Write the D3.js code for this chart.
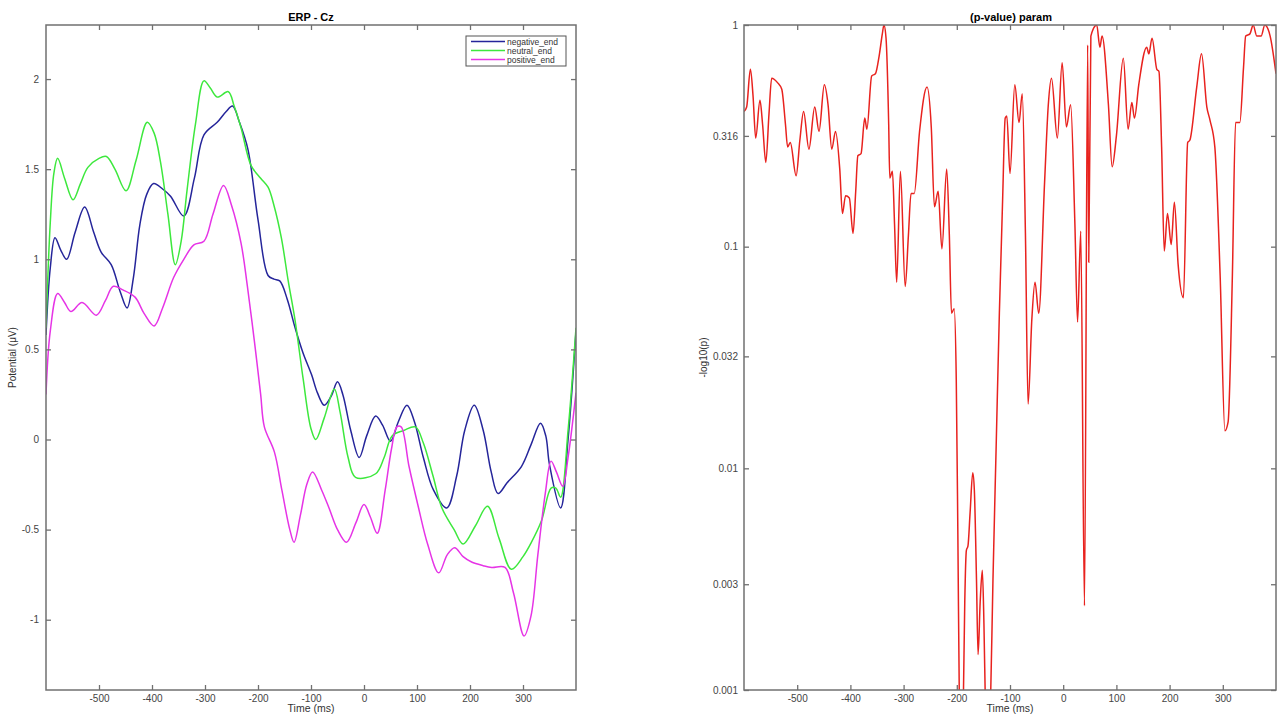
<!DOCTYPE html>
<html>
<head>
<meta charset="utf-8">
<script src="https://cdn.jsdelivr.net/npm/d3@7"></script>
<style>
  body { margin: 0; background: #fff; }
  text { font-family: "Liberation Sans", Arial, sans-serif; }
</style>
</head>
<body>
<svg id="chart" width="1278" height="715"></svg>
<script>
// [time (ms), potential (uV)]
const negativeEnd = [[-600, 0.58], [-592, 0.95], [-583, 1.12], [-572, 1.05], [-561, 1.0], [-545, 1.15], [-527, 1.29], [-510, 1.15], [-496, 1.04], [-477, 0.97], [-460, 0.82], [-447, 0.73], [-435, 0.9], [-423, 1.19], [-410, 1.36], [-397, 1.42], [-380, 1.39], [-365, 1.35], [-340, 1.24], [-320, 1.45], [-302, 1.69], [-277, 1.76], [-260, 1.82], [-248, 1.85], [-235, 1.76], [-219, 1.61], [-200, 1.22], [-181, 0.91], [-170, 0.89], [-159, 0.88], [-145, 0.78], [-130, 0.62], [-115, 0.48], [-99, 0.36], [-88, 0.26], [-75, 0.19], [-62, 0.24], [-50, 0.32], [-40, 0.25], [-25, 0.05], [-9, -0.10], [5, 0.02], [22, 0.13], [35, 0.08], [50, -0.01], [65, 0.1], [81, 0.19], [95, 0.1], [112, -0.1], [131, -0.28], [156, -0.38], [175, -0.2], [190, 0.05], [208, 0.19], [225, 0.05], [240, -0.18], [253, -0.30], [270, -0.24], [297, -0.15], [315, -0.03], [333, 0.09], [343, 0.02], [350, -0.14], [371, -0.38], [385, 0.0], [400, 0.6]]
const neutralEnd = [[-600, 0.62], [-592, 1.2], [-585, 1.48], [-578, 1.56], [-565, 1.45], [-549, 1.33], [-535, 1.42], [-521, 1.51], [-500, 1.56], [-486, 1.57], [-470, 1.5], [-449, 1.38], [-430, 1.55], [-409, 1.76], [-396, 1.70], [-384, 1.54], [-370, 1.25], [-356, 0.97], [-345, 1.1], [-334, 1.38], [-318, 1.75], [-302, 1.99], [-290, 1.95], [-277, 1.90], [-256, 1.93], [-245, 1.85], [-232, 1.73], [-213, 1.52], [-195, 1.45], [-181, 1.40], [-170, 1.3], [-156, 1.12], [-143, 0.88], [-130, 0.66], [-115, 0.34], [-100, 0.06], [-91, 0.0], [-75, 0.12], [-56, 0.28], [-45, 0.15], [-30, -0.1], [-16, -0.21], [22, -0.19], [38, -0.1], [53, 0.02], [75, 0.05], [97, 0.07], [112, -0.02], [130, -0.2], [147, -0.38], [170, -0.5], [187, -0.58], [210, -0.48], [233, -0.37], [255, -0.55], [278, -0.72], [300, -0.65], [316, -0.57], [335, -0.45], [353, -0.27], [362, -0.27], [371, -0.32], [385, 0.05], [400, 0.62]]
const positiveEnd = [[-600, 0.25], [-592, 0.6], [-578, 0.81], [-565, 0.76], [-553, 0.71], [-532, 0.76], [-505, 0.69], [-488, 0.77], [-473, 0.85], [-455, 0.83], [-432, 0.79], [-415, 0.70], [-396, 0.63], [-380, 0.73], [-359, 0.90], [-340, 1.0], [-321, 1.08], [-302, 1.10], [-285, 1.25], [-265, 1.41], [-250, 1.30], [-232, 1.09], [-220, 0.85], [-207, 0.55], [-195, 0.25], [-188, 0.07], [-169, -0.07], [-155, -0.28], [-140, -0.50], [-132, -0.57], [-120, -0.42], [-108, -0.25], [-97, -0.18], [-80, -0.28], [-66, -0.38], [-50, -0.50], [-33, -0.57], [-15, -0.46], [0, -0.36], [12, -0.43], [25, -0.52], [40, -0.28], [52, -0.05], [62, 0.07], [70, 0.07], [85, -0.15], [103, -0.38], [120, -0.58], [141, -0.74], [157, -0.64], [171, -0.60], [187, -0.65], [203, -0.68], [225, -0.70], [241, -0.71], [266, -0.71], [282, -0.85], [302, -1.09], [315, -0.98], [328, -0.64], [342, -0.3], [353, -0.12], [363, -0.18], [375, -0.26], [385, -0.1], [400, 0.26]]

// [time (ms), -log10(p)]
const paramLogP = [[-600, 0.39], [-595, 0.37], [-588, 0.20], [-583, 0.32], [-578, 0.51], [-570, 0.34], [-565, 0.45], [-559, 0.62], [-553, 0.40], [-548, 0.24], [-537, 0.26], [-529, 0.29], [-522, 0.45], [-518, 0.55], [-513, 0.53], [-502, 0.68], [-495, 0.52], [-488, 0.39], [-478, 0.56], [-467, 0.37], [-459, 0.48], [-449, 0.27], [-442, 0.36], [-435, 0.56], [-428, 0.48], [-420, 0.65], [-415, 0.85], [-409, 0.77], [-402, 0.78], [-395, 0.94], [-390, 0.75], [-386, 0.59], [-380, 0.58], [-373, 0.42], [-369, 0.47], [-360, 0.23], [-353, 0.22], [-346, 0.14], [-340, 0.04], [-337, 0.0], [-333, 0.06], [-328, 0.45], [-326, 0.69], [-321, 0.66], [-317, 0.9], [-313, 1.16], [-306, 0.66], [-297, 1.18], [-291, 0.95], [-286, 0.76], [-280, 0.76], [-270, 0.48], [-256, 0.28], [-248, 0.46], [-242, 0.82], [-235, 0.75], [-228, 1.01], [-219, 0.65], [-214, 0.95], [-210, 1.30], [-205, 1.28], [-201, 1.6], [-198, 2.3], [-195, 3.1], [-191, 3.4], [-188, 3.1], [-185, 2.6], [-182, 2.37], [-179, 2.35], [-175, 2.2], [-170, 2.02], [-167, 2.1], [-163, 2.5], [-160, 2.84], [-156, 2.6], [-152, 2.46], [-149, 2.7], [-146, 3.1], [-142, 3.4], [-137, 3.1], [-132, 2.5], [-126, 1.9], [-120, 1.3], [-114, 0.8], [-109, 0.42], [-106, 0.41], [-100, 0.67], [-91, 0.27], [-83, 0.44], [-77, 0.31], [-71, 0.94], [-66, 1.71], [-59, 1.33], [-53, 1.16], [-46, 1.30], [-35, 0.71], [-28, 0.36], [-22, 0.24], [-11, 0.51], [-2, 0.17], [6, 0.46], [14, 0.36], [22, 0.90], [27, 1.34], [33, 0.93], [40, 2.62], [46, 0.09], [48, 1.07], [52, 0.05], [63, 0.0], [69, 0.10], [73, 0.05], [85, 0.36], [92, 0.64], [100, 0.50], [113, 0.15], [122, 0.47], [129, 0.35], [134, 0.42], [142, 0.27], [157, 0.10], [161, 0.13], [167, 0.06], [176, 0.20], [180, 0.21], [185, 0.55], [190, 1.02], [196, 0.85], [203, 0.99], [209, 0.80], [216, 1.08], [226, 1.23], [234, 0.53], [238, 0.52], [251, 0.28], [260, 0.13], [270, 0.37], [276, 0.43], [285, 0.55], [295, 1.13], [304, 1.83], [310, 1.79], [318, 1.13], [324, 0.44], [332, 0.44], [339, 0.19], [343, 0.05], [351, 0.04], [357, 0.0], [364, 0.05], [372, 0.05], [379, 0.0], [389, 0.05], [400, 0.22]]

const seriesNames = ['negative_end', 'neutral_end', 'positive_end']
const seriesColors = ['#25259a', '#3de83d', '#e634e6']
const timeTicks = [-500, -400, -300, -200, -100, 0, 100, 200, 300]
const erpTicks = [-1, -0.5, 0, 0.5, 1, 1.5, 2]
const pTicks = [1, 0.316, 0.1, 0.032, 0.01, 0.003, 0.001]

const svg = d3.select('#chart')
const plotTop = 25, plotBottom = 690
const frameColor = '#707070'
const labelColor = '#444'

const drawFrame = (g, x, y, yTicks, pad) => {
    const [x0, x1] = x.range()
    g.append('rect')
     .attr('x', x0).attr('y', plotTop)
     .attr('width', x1 - x0).attr('height', plotBottom - plotTop)
     .attr('fill', 'none').attr('stroke', frameColor).attr('stroke-width', 1.5)

    // matlab style: ticks pointing inward on all four sides, plain hyphen minus
    const axes = [
        [d3.axisBottom(x).tickValues(timeTicks).tickSize(-5).tickPadding(5).tickFormat(d => String(d)), `translate(0,${plotBottom})`],
        [d3.axisTop(x).tickValues(timeTicks).tickSize(-5).tickFormat(''), `translate(0,${plotTop})`],
        [d3.axisLeft(y).tickValues(yTicks).tickSize(-5).tickPadding(pad).tickFormat(d => String(d)), `translate(${x0},0)`],
        [d3.axisRight(y).tickValues(yTicks).tickSize(-5).tickFormat(''), `translate(${x1},0)`]
    ]
    axes.forEach(([axis, tr]) => {
        const a = g.append('g').attr('transform', tr).call(axis)
        a.select('.domain').remove()
        a.selectAll('line').attr('stroke', frameColor).attr('stroke-width', 1.3)
        a.selectAll('text').attr('fill', labelColor).style('font-size', '10px')
    })

    g.append('text')
     .attr('x', (x0 + x1) / 2).attr('y', 712)
     .attr('text-anchor', 'middle')
     .attr('fill', '#333').style('font-size', '10.5px')
     .text('Time (ms)')
}

// ---- left panel: ERP - Cz
const xL = d3.scaleLinear().domain([-600, 400]).range([46, 576])
const yL = d3.scaleLinear().domain([-1.39, 2.3]).range([plotBottom, plotTop])
const left = svg.append('g')

left.append('clipPath').attr('id', 'clipL')
    .append('rect').attr('x', 46).attr('y', plotTop).attr('width', 530).attr('height', plotBottom - plotTop)

const erpLine = d3.line()
    .x(d => xL(d[0]))
    .y(d => yL(d[1]))
    .curve(d3.curveCatmullRom.alpha(0.5))

left.append('g').attr('clip-path', 'url(#clipL)')
    .selectAll('path')
    .data([negativeEnd, neutralEnd, positiveEnd])
    .enter()
    .append('path')
    .attr('fill', 'none')
    .attr('stroke', (_, i) => seriesColors[i])
    .attr('stroke-width', 1.5)
    .attr('d', erpLine)

drawFrame(left, xL, yL, erpTicks, 7)

left.append('text')
    .attr('x', 311).attr('y', 21)
    .attr('text-anchor', 'middle')
    .style('font-size', '11px').style('font-weight', 'bold')
    .text('ERP - Cz')

left.append('text')
    .attr('transform', `translate(16,${(plotTop + plotBottom) / 2}) rotate(-90)`)
    .attr('text-anchor', 'middle')
    .attr('fill', '#333').style('font-size', '10px')
    .text('Potential (\u03bcV)')

const legend = left.append('g')
legend.append('rect')
      .attr('x', 466).attr('y', 36).attr('width', 100).attr('height', 30)
      .attr('fill', '#fff').attr('stroke', '#555').attr('stroke-width', 1)
seriesNames.forEach((name, i) => {
    const yy = 41.5 + i * 9
    legend.append('line')
          .attr('x1', 471).attr('x2', 505).attr('y1', yy).attr('y2', yy)
          .attr('stroke', seriesColors[i]).attr('stroke-width', 1.5)
    legend.append('text')
          .attr('x', 507).attr('y', yy + 3)
          .attr('fill', '#333').style('font-size', '8.5px')
          .text(name)
})

// ---- right panel: (p-value) param
const xR = d3.scaleLinear().domain([-600, 400]).range([744, 1276])
const yR = d3.scaleLog().domain([0.001, 1]).range([plotBottom, plotTop])
const right = svg.append('g')

right.append('clipPath').attr('id', 'clipR')
     .append('rect').attr('x', 744).attr('y', plotTop).attr('width', 532).attr('height', plotBottom - plotTop)

const pLine = d3.line()
    .x(d => xR(d[0]))
    .y(d => yR(Math.pow(10, -d[1])))
    .curve(d3.curveMonotoneX)

right.append('path')
     .datum(paramLogP)
     .attr('clip-path', 'url(#clipR)')
     .attr('fill', 'none')
     .attr('stroke', '#e8221e')
     .attr('stroke-width', 1.5)
     .attr('d', pLine)

drawFrame(right, xR, yR, pTicks, 6)

right.append('text')
     .attr('x', 1011).attr('y', 21)
     .attr('text-anchor', 'middle')
     .style('font-size', '11px').style('font-weight', 'bold')
     .text('(p-value) param')

right.append('text')
     .attr('transform', `translate(707,${(plotTop + plotBottom) / 2}) rotate(-90)`)
     .attr('text-anchor', 'middle')
     .attr('fill', '#333').style('font-size', '10px')
     .text('-log10(p)')
</script>
</body>
</html>
